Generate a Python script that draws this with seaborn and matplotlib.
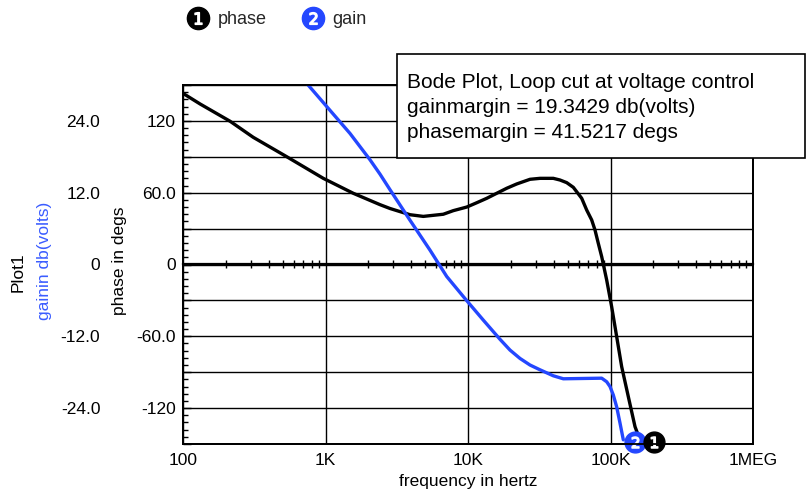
#!/usr/bin/env python3
# Bode plot, loop cut at voltage control: phase (deg) and gain (dB) vs frequency

import matplotlib
matplotlib.use("Agg")
import matplotlib.pyplot as plt
import matplotlib.ticker as mticker
import matplotlib.transforms as mtransforms
from matplotlib.lines import Line2D
from matplotlib.patches import Rectangle
import pandas as pd
import seaborn as sns

# ---- data ----
PHASE_FREQ = [100, 132, 214, 311, 534, 965, 1567, 2413, 2836, 3917, 4857,
              6708, 7885, 9794, 11510, 13530, 15900, 18690, 21970, 27240,
              32010, 39690, 44220, 49280, 54830, 57910, 62800, 68070, 73800,
              77850, 82100, 86760, 94030, 101900, 110500, 119800, 133400,
              148600, 161100]
PHASE_DEG = [143.0, 134.1, 119.7, 106.3, 90.1, 72.0, 59.5, 50.0, 46.8, 41.6,
             40.2, 42.0, 45.0, 48.0, 51.6, 55.3, 59.5, 63.7, 67.3, 71.2,
             72.0, 72.0, 70.6, 68.4, 64.5, 60.8, 55.3, 45.5, 37.2, 28.8,
             17.7, 6.5, -13.0, -35.3, -60.3, -85.4, -110.5, -135.5, -146.7]

GAIN_FREQ = [650, 1020, 1486, 2053, 2413, 2836, 3917, 5412, 7089, 9683,
             12810, 16770, 19710, 23170, 27230, 32010, 39690, 46650, 86760,
             94040, 99200, 104600, 110500, 116600, 122990]
GAIN_DB = [31.8, 26.4, 21.9, 17.5, 15.1, 12.5, 7.4, 2.4, -2.0, -5.9, -9.3,
           -12.5, -14.3, -15.7, -16.8, -17.6, -18.6, -19.1, -19.0, -19.6,
           -20.4, -21.8, -23.8, -26.5, -29.3]

X_TICKS = [1e2, 1e3, 1e4, 1e5, 1e6]
X_TICKLABELS = ["100", "1K", "10K", "100K", "1MEG"]
PHASE_TICKS = [-120, -60, 0, 60, 120]
PHASE_TICKLABELS = ["-120", "-60.0", "0", "60.0", "120"]
GAIN_TICKS = [-24, -12, 0, 12, 24]
GAIN_TICKLABELS = ["-24.0", "-12.0", "0", "12.0", "24.0"]

SERIES_NAMES = ["phase", "gain"]
ANNOT_LINES = ["Bode Plot, Loop cut at voltage control",
               "gainmargin = 19.3429 db(volts)",
               "phasemargin = 41.5217 degs"]

BLUE = "#2447ff"
LABEL_BLUE = "#3a5cff"
W, H = 806, 496

sns.set_theme(style="white")
plt.rcParams["font.family"] = ["Liberation Sans", "DejaVu Sans"]

fig = plt.figure(figsize=(W / 100, H / 100), dpi=100)
ax = fig.add_axes([183 / W, 52 / H, 570 / W, 359 / H])
ax.set_xscale("log")
ax2 = ax.twinx()

phase_df = pd.DataFrame({"freq": PHASE_FREQ, "phase": PHASE_DEG})
gain_df = pd.DataFrame({"freq": GAIN_FREQ, "gain": GAIN_DB})

sns.lineplot(data=phase_df, x="freq", y="phase", ax=ax, color="black",
             lw=2.4, sort=False, estimator=None)
sns.lineplot(data=gain_df, x="freq", y="gain", ax=ax2, color=BLUE,
             lw=2.4, sort=False, estimator=None)

ax.set_xlim(1e2, 1e6)
ax.set_ylim(-150, 150)
ax2.set_ylim(-30, 30)

# x axis
ax.set_xticks(X_TICKS, X_TICKLABELS)
ax.xaxis.set_minor_locator(mticker.NullLocator())
ax.tick_params(axis="x", which="major", bottom=True, length=0, pad=6.5,
               labelsize=12.5, colors="black")

# phase axis (inner labels)
phase_lbl = dict(zip(PHASE_TICKS, PHASE_TICKLABELS))
ax.yaxis.set_major_locator(mticker.MultipleLocator(30))
ax.yaxis.set_major_formatter(
    mticker.FuncFormatter(lambda v, pos: phase_lbl.get(int(round(v)), "")))
ax.yaxis.set_minor_locator(mticker.MultipleLocator(6))
ax.tick_params(axis="y", which="major", left=True, right=False,
               direction="in", length=6, width=1, pad=5, labelsize=12.5,
               colors="black")
ax.tick_params(axis="y", which="minor", left=True, right=False,
               direction="in", length=3.5, width=1, color="black")
ax.grid(True, which="major", color="black", lw=1.0)
ax.set_xlabel("frequency in hertz", fontsize=12.5, color="black")
ax.xaxis.set_label_coords(0.5, -0.083)
ax.set_ylabel("phase in degs", fontsize=12.5, color="black")
ax.yaxis.set_label_coords(-0.098, 0.51)

# gain axis (outer labels, also on the left)
ax2.yaxis.tick_left()
ax2.yaxis.set_label_position("left")
ax2.set_yticks(GAIN_TICKS, GAIN_TICKLABELS)
ax2.tick_params(axis="y", left=True, right=False, length=0, pad=59.5,
                labelsize=12.5, colors="black")
ax2.set_ylabel("gainin db(volts)", fontsize=12.5, color=LABEL_BLUE)
ax2.yaxis.set_label_coords(-0.23, 0.51)
ax2.grid(False)

for a in (ax, ax2):
    for sp in a.spines.values():
        sp.set_color("black")
        sp.set_linewidth(1.3)

# zero line with log sub-ticks crossing it
zero = ax.secondary_xaxis(0.5)
zero.spines["top"].set_linewidth(1.6)
zero.spines["top"].set_color("black")
zero.tick_params(which="major", length=0, labeltop=False, labelbottom=False)
zero.tick_params(which="minor", direction="inout", length=5.5, width=1,
                 color="black", labeltop=False, labelbottom=False)

fig.text(18.5 / W, 1 - 272 / H, "Plot1", rotation=90, ha="center",
         va="center", fontsize=12.5, color="black")

# numbered end markers (drawn on ax2 so phase "1" sits above gain "2")
shift = mtransforms.ScaledTranslation(0.12, -0.02, fig.dpi_scale_trans)
ax2.plot(GAIN_FREQ[-1:], GAIN_DB[-1:], ls="", marker="o", ms=15, color=BLUE,
         transform=ax2.transData + shift, clip_on=False, scalex=False,
         scaley=False)
ax2.plot(GAIN_FREQ[-1:], GAIN_DB[-1:], ls="", marker="$2$", ms=8,
         color="white", transform=ax2.transData + shift, clip_on=False,
         scalex=False, scaley=False)
shift1 = mtransforms.ScaledTranslation(0.14, -0.02, fig.dpi_scale_trans)
ax2.plot(PHASE_FREQ[-1:], PHASE_DEG[-1:], ls="", marker="o", ms=15,
         color="black", transform=ax.transData + shift1, clip_on=False,
         scalex=False, scaley=False)
ax2.plot(PHASE_FREQ[-1:], PHASE_DEG[-1:], ls="", marker="$1$", ms=8,
         color="white", transform=ax.transData + shift1, clip_on=False,
         scalex=False, scaley=False)

# legend
handles = [
    (Line2D([], [], ls="", marker="o", ms=16, color="black"),
     Line2D([], [], ls="", marker="$1$", ms=8.5, color="white")),
    (Line2D([], [], ls="", marker="o", ms=16, color=BLUE),
     Line2D([], [], ls="", marker="$2$", ms=8.5, color="white")),
]
fig.legend(handles, SERIES_NAMES, loc="center", ncol=2, frameon=False,
           bbox_to_anchor=(277 / W, 1 - 20 / H), fontsize=13,
           handlelength=1.2, handletextpad=0.5, columnspacing=1.95)

# annotation box
fig.add_artist(Rectangle((397 / W, 1 - 158 / H), 408 / W, 104 / H,
                         transform=fig.transFigure, facecolor="white",
                         edgecolor="black", lw=1.2, zorder=5))
for i, line in enumerate(ANNOT_LINES):
    fig.text(407 / W, 1 - (88.3 + 25 * i) / H, line, ha="left",
             va="baseline", fontsize=15, color="black", zorder=6)

fig.savefig("out.png", dpi=100, facecolor="white")
